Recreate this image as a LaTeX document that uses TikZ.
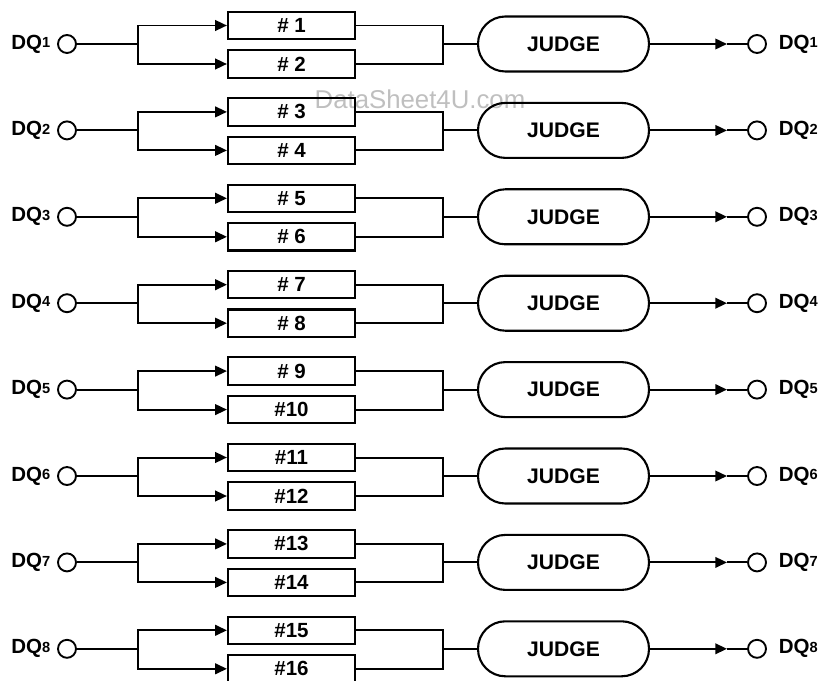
\documentclass[tikz,border=0pt]{standalone}
\usepackage{fontspec}
\setmainfont{Liberation Sans}
\usetikzlibrary{arrows.meta,positioning}
\newcommand\dqname[1]{DQ\raisebox{1.2pt}{\fontsize{12.5}{12.5}\selectfont #1}}
\tikzset{
  wire/.style={line width=1.7pt},
  feed/.style={wire,-{Triangle[length=10pt,width=9pt]}},
  cellbox/.style={draw,line width=1.8pt,minimum width=3.81cm,minimum height=0.82cm,inner sep=0pt,font=\fontsize{17.5}{17.5}\selectfont\bfseries},
  judgebox/.style={draw,line width=1.8pt,rounded corners=0.82cm,minimum width=5.13cm,minimum height=1.65cm,inner sep=0pt,font=\fontsize{18}{18}\selectfont\bfseries},
  port/.style={circle,draw,line width=1.6pt,minimum size=0.54cm,inner sep=0pt},
  pinlabel/.style={inner sep=0pt,font=\fontsize{17.5}{17.5}\selectfont\bfseries}
}
\begin{document}
\begin{tikzpicture}[x=0.03cm,y=-0.03cm]
  \useasboundingbox (0,0) rectangle (823,680);
  \node[text=black!25,font=\fontsize{22}{22}\selectfont] (mark) at (420,99) {DataSheet4U.com};
  \foreach \r in {1,...,8} {
    \pgfmathsetmacro\y{44+86.4*(\r-1)}
    \pgfmathtruncatemacro\a{2*\r-1}
    \pgfmathtruncatemacro\b{2*\r}
    \node[port] (in\r) at (67,\y) {};
    \node[pinlabel,left=0.2cm of in\r] (lin\r) {\dqname{\r}};
    \node[cellbox] (ca\r) at (291.5,\y-18.5) {\ifnum\a<10 \#~\a\else\#\a\fi};
    \node[cellbox] (cb\r) at (291.5,\y+20) {\ifnum\b<10 \#~\b\else\#\b\fi};
    \node[judgebox] (jd\r) at (563.5,\y) {JUDGE};
    \node[port] (out\r) at (757,\y) {};
    \node[pinlabel,right=0.35cm of out\r] (lout\r) {\dqname{\r}};
    \coordinate (sl\r) at (138,\y);
    \coordinate (sr\r) at (443,\y);
    \coordinate (tip\r) at (727,\y);
    \draw[feed] (in\r.east) -- (sl\r) |- (ca\r.west);
    \draw[feed] (sl\r) |- (cb\r.west);
    \draw[wire] (ca\r.east) -| (sr\r);
    \draw[wire] (cb\r.east) -| (sr\r) -- (jd\r.west);
    \draw[feed] (jd\r.east) -- (tip\r);
    \draw[wire] (tip\r) -- (out\r.west);
  }
\end{tikzpicture}
\end{document}
